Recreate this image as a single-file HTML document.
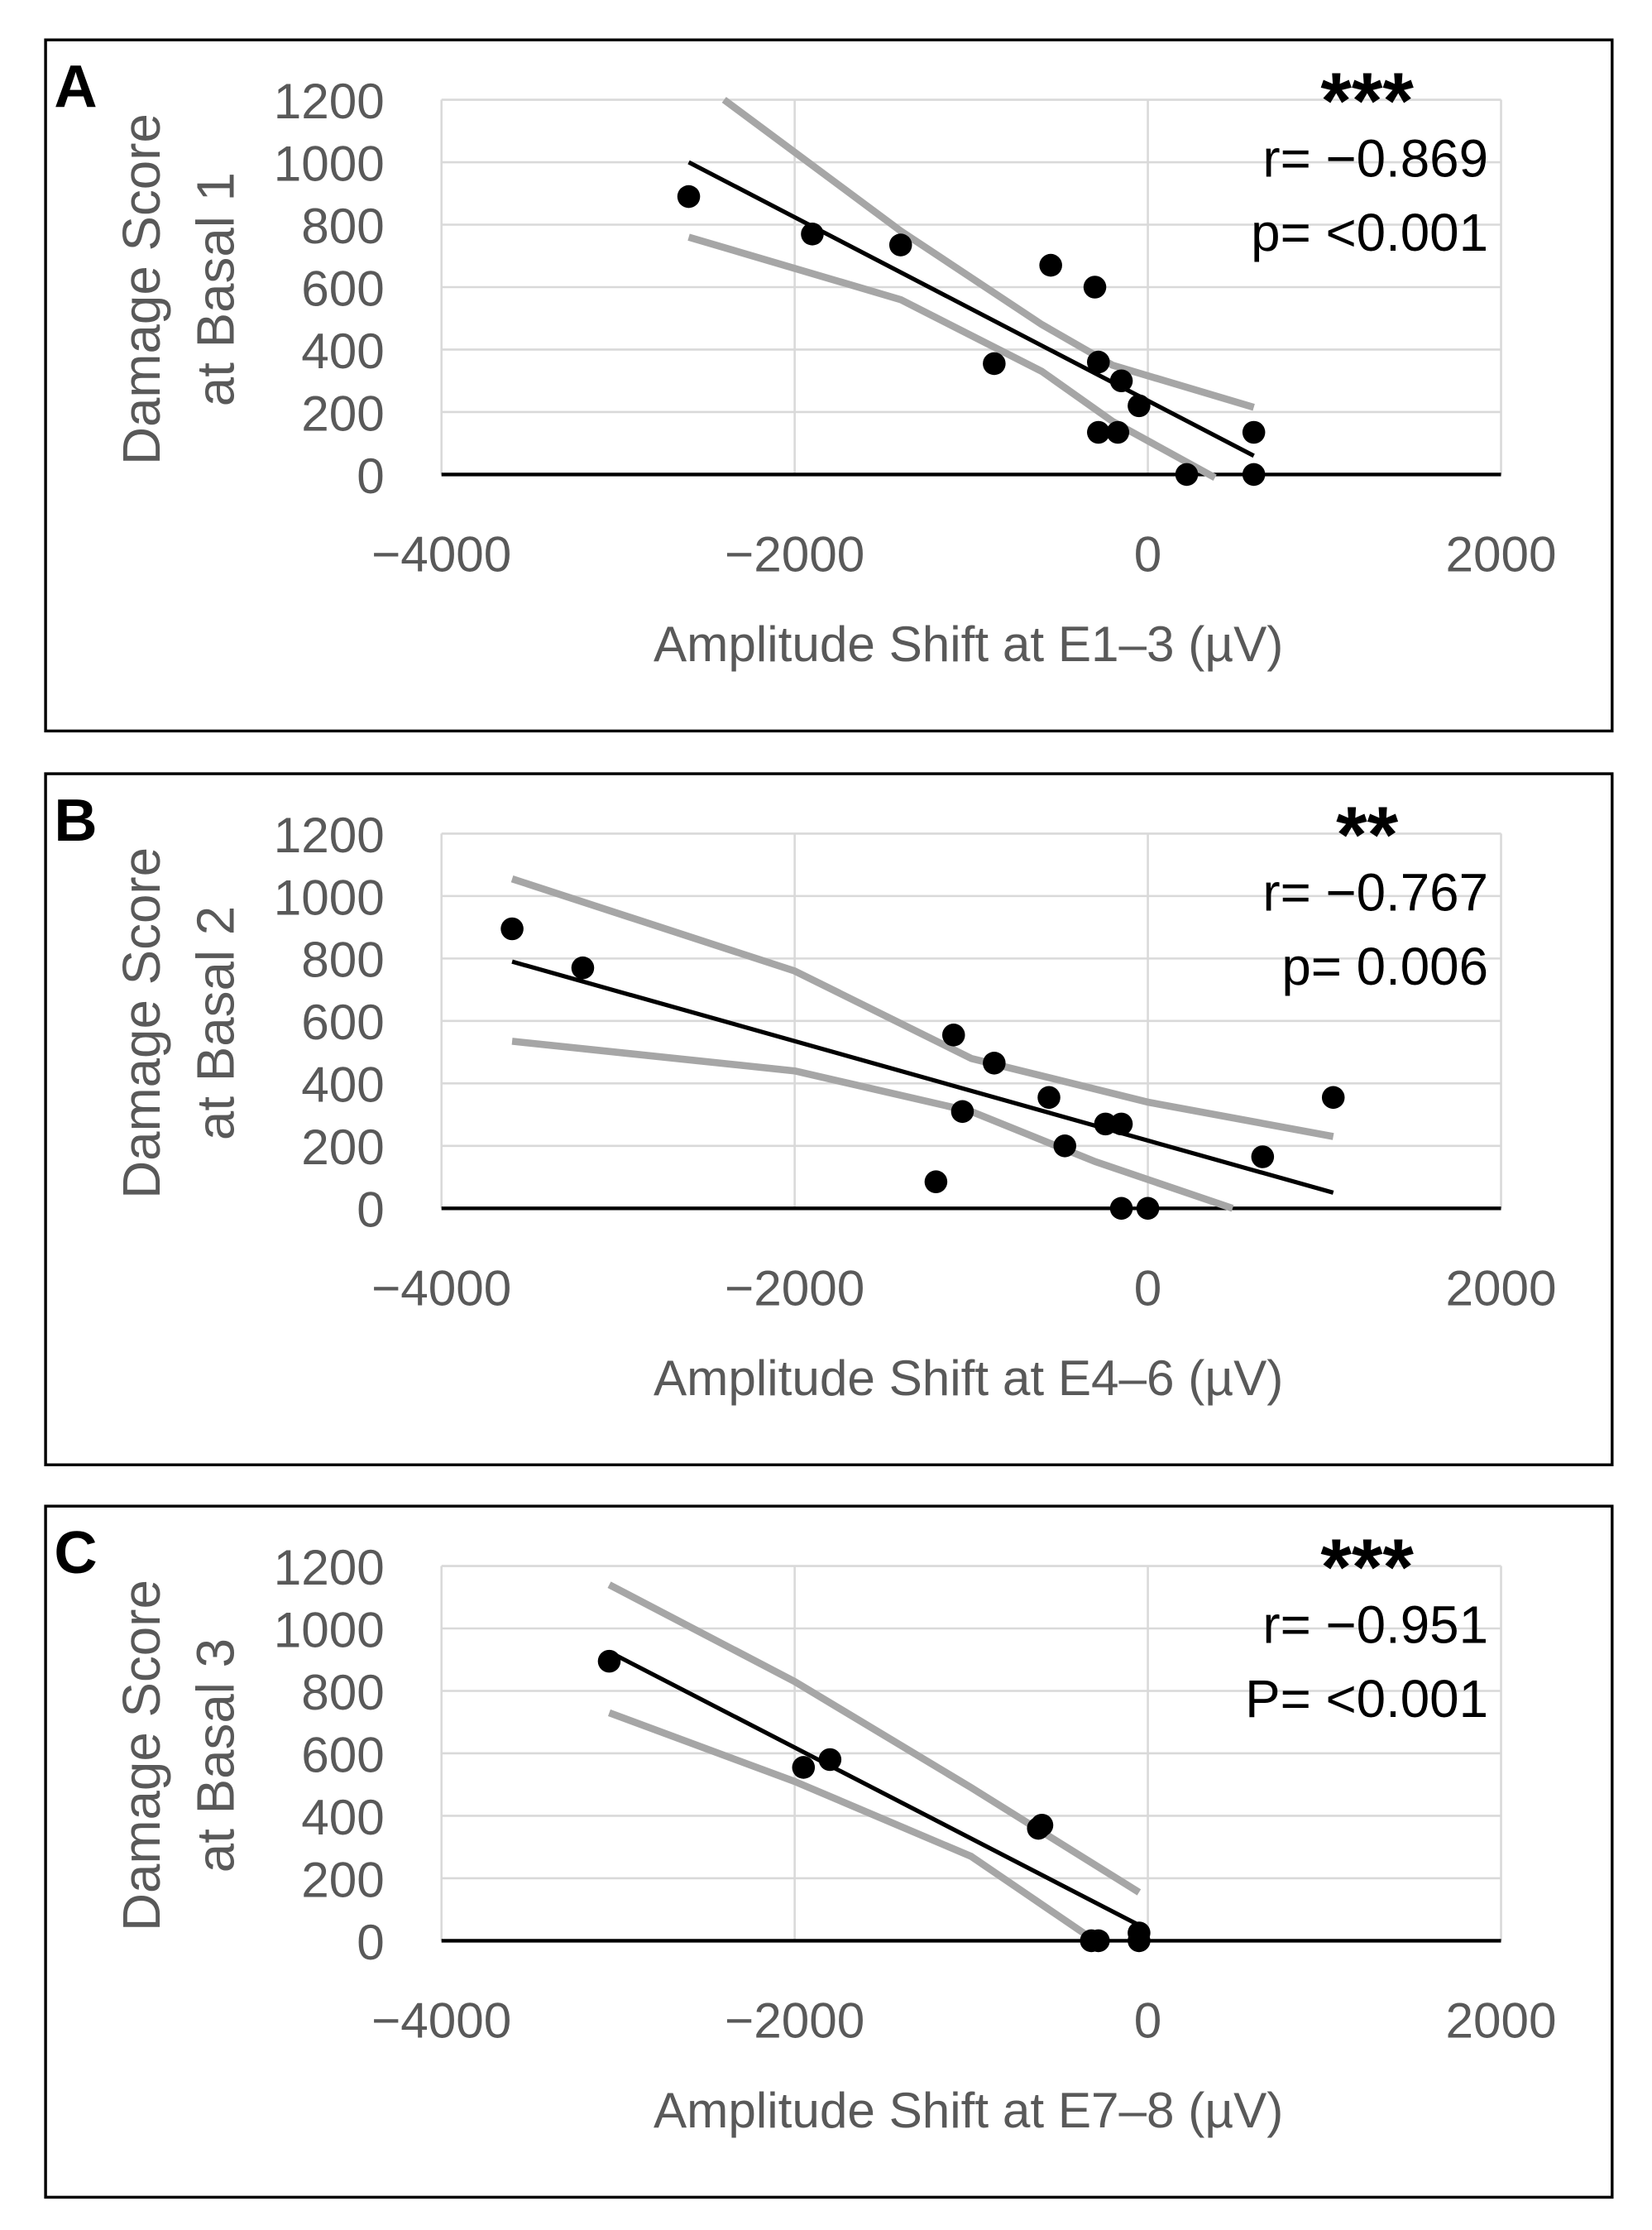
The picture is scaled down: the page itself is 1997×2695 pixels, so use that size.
<!DOCTYPE html>
<html><head><meta charset="utf-8"><style>
html,body{margin:0;padding:0;background:#fff;}
svg{display:block;}
text{font-family:"Liberation Sans",sans-serif;}
</style></head><body>
<svg id="fig" width="1997" height="2695" viewBox="0 0 1160 1565" preserveAspectRatio="none" xmlns="http://www.w3.org/2000/svg"></svg>
<script>
// Panel A data
const aX = [-2600,-1900,-1400,-550,-300,-870,-280,-150,-50,-280,-170,600,220,600];
const aY = [890,770,735,670,600,355,360,300,220,135,135,135,0,0];
const aFitX = [-2600,600], aFitY = [1000,60];
const aUpX = [-2400,-1400,-600,-200,600], aUpY = [1200,780,480,350,215];
const aLoX = [-2600,-1400,-600,-200,380], aLoY = [760,560,330,170,-10];
// Panel B data
const bX = [-3600,-3200,-1100,-870,-560,-1050,-470,-1200,-240,-150,-150,0,650,1050];
const bY = [895,770,555,465,355,310,200,85,270,270,0,0,165,355];
const bFitX = [-3600,1050], bFitY = [790,50];
const bUpX = [-3600,-2000,-1000,0,1050], bUpY = [1055,760,480,340,230];
const bLoX = [-3600,-2000,-1000,-300,480], bLoY = [535,440,310,150,0];
// Panel C data
const cX = [-3050,-1950,-1800,-620,-600,-320,-280,-50,-50];
const cY = [895,555,580,360,370,0,0,25,0];
const cFitX = [-3050,-50], cFitY = [925,50];
const cUpX = [-3050,-2000,-1000,-50], cUpY = [1140,830,490,155];
const cLoX = [-3050,-2000,-1000,-300], cLoY = [730,510,270,0];
const xTicks = [-4000,-2000,0,2000];
const yTicks = [0,200,400,600,800,1000,1200];

const panels = [
 {id:'a',letter:'A',top:28,y0:333,xs:aX,ys:aY,fx:aFitX,fy:aFitY,ux:aUpX,uy:aUpY,lx:aLoX,ly:aLoY,
  xt:'Amplitude Shift at E1\u20133 (\u00b5V)',yt:'at Basal 1',stars:'***',r:'r= \u22120.869',p:'p= <0.001'},
 {id:'b',letter:'B',top:543,y0:848,xs:bX,ys:bY,fx:bFitX,fy:bFitY,ux:bUpX,uy:bUpY,lx:bLoX,ly:bLoY,
  xt:'Amplitude Shift at E4\u20136 (\u00b5V)',yt:'at Basal 2',stars:'**',r:'r= \u22120.767',p:'p= 0.006'},
 {id:'c',letter:'C',top:1057,y0:1362,xs:cX,ys:cY,fx:cFitX,fy:cFitY,ux:cUpX,uy:cUpY,lx:cLoX,ly:cLoY,
  xt:'Amplitude Shift at E7\u20138 (\u00b5V)',yt:'at Basal 3',stars:'***',r:'r= \u22120.951',p:'P= <0.001'}
];
const NS='http://www.w3.org/2000/svg';
const svg=document.getElementById('fig');
function mk(tag,attrs,parent,txt){const e=document.createElementNS(NS,tag);for(const k in attrs)e.setAttribute(k,attrs[k]);if(txt!==undefined)e.textContent=txt;parent.appendChild(e);return e;}
panels.forEach(P=>{
  const g=mk('g',{},svg);
  
  
  const sx=v=>310+(v+4000)/6000*744;
  const sy=v=>P.y0-v/1200*263;
  const box=mk('rect',{x:32,y:P.top,width:1100,height:485,fill:'none',stroke:'#000','stroke-width':2},g);
  
  
  const lt=mk('text',{x:38,y:P.top+47,'font-size':42,'font-weight':'bold',fill:'#000'},g,P.letter);
  
  
  yTicks.forEach(t=>{
    if(t>0){const l=mk('line',{x1:310,x2:1054,y1:sy(t),y2:sy(t),stroke:'#d9d9d9','stroke-width':1.5},g);
      }
    const tx=mk('text',{x:270,y:sy(t)+13,'font-size':35,fill:'#595959','text-anchor':'end'},g,String(t));
    
    
  });
  xTicks.forEach(t=>{
    const l=mk('line',{x1:sx(t),x2:sx(t),y1:sy(1200),y2:P.y0,stroke:'#d9d9d9','stroke-width':1.5},g);
    
    
    const tx=mk('text',{x:sx(t),y:P.y0+68,'font-size':35,fill:'#595959','text-anchor':'middle'},g,t<0?'\u2212'+(-t):String(t));
    
    
  });
  const ax=mk('line',{x1:310,x2:1054,y1:P.y0,y2:P.y0,stroke:'#000','stroke-width':2.5},g);
  
  
  const poly=(xs,ys,col,w,name)=>{const pl=mk('polyline',{points:xs.map((x,i)=>sx(x)+','+sy(ys[i])).join(' '),fill:'none',stroke:col,'stroke-width':w,'stroke-linejoin':'round'},g);
    };
  poly(P.ux,P.uy,'#a6a6a6',5,'upper-confidence-band');
  poly(P.lx,P.ly,'#a6a6a6',5,'lower-confidence-band');
  poly(P.fx,P.fy,'#000',3,'trend-line');
  P.xs.forEach((x,i)=>{
    const c=mk('circle',{cx:sx(x),cy:sy(P.ys[i]),r:8,fill:'#000'},g);
    
    
  });
  const xtl=mk('text',{x:680,y:P.top+436,'font-size':35,fill:'#595959','text-anchor':'middle'},g,P.xt);
  
  
  const ytg=mk('text',{transform:'translate(112,'+(P.top+175)+') rotate(-90)','font-size':37,fill:'#595959','text-anchor':'middle'},g);
  
  
  mk('tspan',{x:0,y:0},ytg,'Damage Score');
  mk('tspan',{x:0,y:52},ytg,P.yt);
  const st=mk('text',{x:960,y:P.top+62,'font-size':56,'font-weight':'bold',fill:'#000','text-anchor':'middle'},g,P.stars);
  
  
  const rt=mk('text',{x:1045,y:P.top+96,'font-size':37,fill:'#000','text-anchor':'end'},g,P.r);
  
  
  const pt=mk('text',{x:1045,y:P.top+148,'font-size':37,fill:'#000','text-anchor':'end'},g,P.p);
  
  
});
</script>
</body></html>
